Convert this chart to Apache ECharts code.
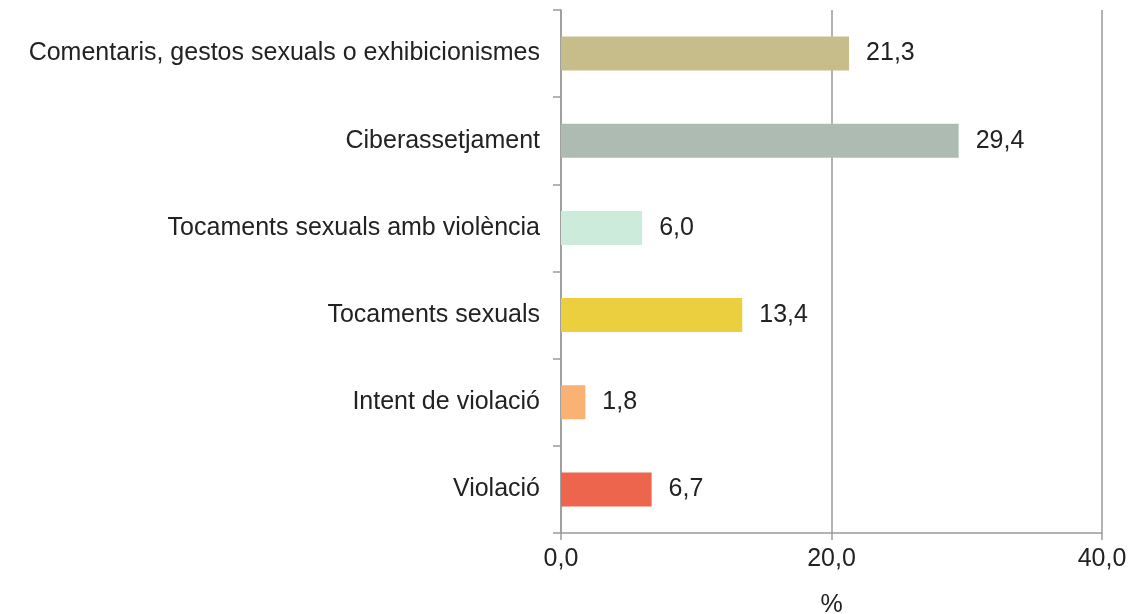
<!DOCTYPE html>
<html>
<head>
<meta charset="utf-8">
<script src="https://cdn.jsdelivr.net/npm/echarts@6/dist/echarts.min.js"></script>
<style>
  html, body { margin: 0; padding: 0; background: #fff; }
  #chart { width: 1132px; height: 614px; }
</style>
</head>
<body>
<div id="chart"></div>
<script>
// Categories, top to bottom
const categories = [
  'Comentaris, gestos sexuals o exhibicionismes',
  'Ciberassetjament',
  'Tocaments sexuals amb violència',
  'Tocaments sexuals',
  'Intent de violació',
  'Violació'
];
const values = [21.3, 29.4, 6.0, 13.4, 1.8, 6.7];
const barColors = ['#C7BD8A', '#ADBBB2', '#CDEBDA', '#EBCF3E', '#FAB174', '#EE654E'];
const xTicks = [0, 20, 40];

const fmt = v => v.toFixed(1).replace('.', ',');
const font = 'Liberation Sans, Arial, sans-serif';
const fsize = 25;

const chart = echarts.init(document.getElementById('chart'), null, { renderer: 'canvas' });
chart.setOption({
  animation: false,
  grid: { left: 561, right: 30, top: 10, bottom: 81, outerBoundsMode: 'none', containLabel: false },
  xAxis: {
    type: 'value',
    min: xTicks[0],
    max: xTicks[xTicks.length - 1],
    interval: xTicks[1] - xTicks[0],
    name: '%',
    nameLocation: 'middle',
    nameGap: 60,
    nameTextStyle: { fontFamily: font, fontSize: fsize, color: '#222' },
    axisLine: { show: true, lineStyle: { color: '#9a9a9a', width: 1.5 } },
    axisTick: { show: true, length: 7, lineStyle: { color: '#9a9a9a', width: 1.5 } },
    axisLabel: { formatter: v => fmt(v), fontFamily: font, fontSize: fsize, color: '#222', margin: 14 },
    splitLine: { show: true, lineStyle: { color: '#9a9a9a', width: 1.5 } }
  },
  yAxis: {
    type: 'category',
    inverse: true,
    data: categories,
    axisLine: { show: true, lineStyle: { color: '#9a9a9a', width: 1.5 } },
    axisTick: { show: true, length: 8, lineStyle: { color: '#9a9a9a', width: 1.5 } },
    axisLabel: { fontFamily: font, fontSize: fsize, color: '#222', margin: 21 }
  },
  series: [{
    type: 'bar',
    data: values.map((v, i) => ({ value: v, itemStyle: { color: barColors[i] } })),
    barWidth: 34,
    label: {
      show: true,
      position: 'right',
      distance: 17,
      formatter: p => fmt(p.value),
      fontFamily: font,
      fontSize: fsize,
      color: '#222'
    }
  }]
});
</script>
</body>
</html>
